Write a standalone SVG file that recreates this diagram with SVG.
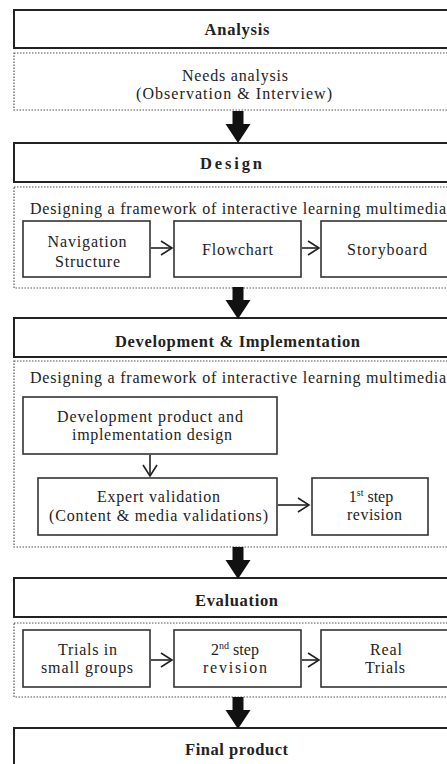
<svg xmlns="http://www.w3.org/2000/svg" width="447" height="764" viewBox="0 0 447 764" font-family="Liberation Serif, DejaVu Serif, serif">
<style>
text{fill:#222;font-size:16px;text-anchor:middle}
.h{font-weight:bold;font-size:16.5px}
.main{fill:#fff;stroke:#222;stroke-width:2}
.dot{fill:#fff;stroke:#555;stroke-width:1.2;stroke-dasharray:1.5 1.5}
.box{fill:#fff;stroke:#333;stroke-width:1.6}
.ln{fill:none;stroke:#222;stroke-width:1.6}
.big{fill:#111}
</style>
<defs>
<marker id="chev" markerWidth="14" markerHeight="16" refX="12" refY="8" orient="auto" markerUnits="userSpaceOnUse">
<path d="M1,1 L12,8 L1,15" fill="none" stroke="#222" stroke-width="1.6"/>
</marker>
<path id="bigArrow" d="M-5.5,0 H5.5 V13 H12.5 L0,32 L-12.5,13 H-5.5 Z"/>
</defs>

<g id="analysis">
<rect class="main" x="14" y="10" width="446" height="38"/>
<text class="h" x="237" y="35" textLength="65">Analysis</text>
</g>
<g id="needs">
<rect class="dot" x="14" y="53" width="446" height="57"/>
<text x="235" y="81" textLength="106">Needs analysis</text>
<text x="234" y="98.5" textLength="196">(Observation &amp; Interview)</text>
</g>

<g id="design">
<rect class="main" x="14" y="143" width="446" height="39"/>
<text class="h" x="231" y="169" textLength="62">Design</text>
</g>
<g id="design-frame">
<rect class="dot" x="14" y="187" width="446" height="101"/>
<text x="238" y="214" textLength="416">Designing a framework of interactive learning multimedia</text>
</g>
<g id="navigation">
<rect class="box" x="23" y="221" width="127" height="56"/>
<text x="87" y="247" textLength="79">Navigation</text>
<text x="87.5" y="266.5" textLength="65">Structure</text>
</g>
<g id="flowchart">
<rect class="box" x="174" y="221" width="127" height="56"/>
<text x="237.5" y="255" textLength="71">Flowchart</text>
</g>
<g id="storyboard">
<rect class="box" x="321" y="221" width="132" height="56"/>
<text x="387" y="255" textLength="80">Storyboard</text>
</g>

<g id="devimpl">
<rect class="main" x="14" y="318" width="446" height="39"/>
<text class="h" x="237.5" y="346.5" textLength="245">Development &amp; Implementation</text>
</g>
<g id="dev-frame">
<rect class="dot" x="14" y="361" width="446" height="186"/>
<text x="238" y="383" textLength="416">Designing a framework of interactive learning multimedia</text>
</g>
<g id="devproduct">
<rect class="box" x="23" y="397" width="254" height="57"/>
<text x="150" y="421.5" textLength="186">Development product and</text>
<text x="152" y="440" textLength="160">implementation design</text>
</g>
<g id="expert">
<rect class="box" x="38" y="478" width="239" height="57"/>
<text x="158.5" y="501.5" textLength="123">Expert validation</text>
<text x="158.5" y="520.5" textLength="219">(Content &amp; media validations)</text>
</g>
<g id="rev1">
<rect class="box" x="312" y="478" width="116" height="57"/>
<text x="371" y="501.5">1<tspan font-size="10" dy="-6">st</tspan><tspan dy="6"> step</tspan></text>
<text x="374.5" y="520" textLength="55">revision</text>
</g>

<g id="evaluation">
<rect class="main" x="14" y="578" width="446" height="39"/>
<text class="h" x="236.5" y="605.5" textLength="83">Evaluation</text>
</g>
<g id="eval-frame">
<rect class="dot" x="14" y="623" width="446" height="74"/>
</g>
<g id="trials-small">
<rect class="box" x="23" y="630" width="127" height="57"/>
<text x="87.5" y="655" textLength="59">Trials in</text>
<text x="87" y="673" textLength="92">small groups</text>
</g>
<g id="rev2">
<rect class="box" x="174" y="630" width="127" height="57"/>
<text x="235" y="655">2<tspan font-size="10" dy="-6">nd</tspan><tspan dy="6"> step</tspan></text>
<text x="235" y="673" textLength="64">revision</text>
</g>
<g id="real-trials">
<rect class="box" x="321" y="630" width="128" height="57"/>
<text x="386" y="655" textLength="32">Real</text>
<text x="385" y="673" textLength="40">Trials</text>
</g>

<g id="final">
<rect class="main" x="14" y="728" width="446" height="44"/>
<text class="h" x="236.5" y="755" textLength="103">Final product</text>
</g>

<g id="connectors">
<use href="#bigArrow" class="big" transform="translate(238,111)"/>
<use href="#bigArrow" class="big" transform="translate(238,287)"/>
<use href="#bigArrow" class="big" transform="translate(238,547)"/>
<use href="#bigArrow" class="big" transform="translate(238,697)"/>
<line class="ln" x1="151" y1="248" x2="172" y2="248" marker-end="url(#chev)"/>
<line class="ln" x1="302" y1="248" x2="319" y2="248" marker-end="url(#chev)"/>
<line class="ln" x1="150" y1="455" x2="150" y2="476" marker-end="url(#chev)"/>
<line class="ln" x1="278" y1="505" x2="309" y2="505" marker-end="url(#chev)"/>
<line class="ln" x1="151" y1="660" x2="172" y2="660" marker-end="url(#chev)"/>
<line class="ln" x1="302" y1="660" x2="319" y2="660" marker-end="url(#chev)"/>
</g>
</svg>
